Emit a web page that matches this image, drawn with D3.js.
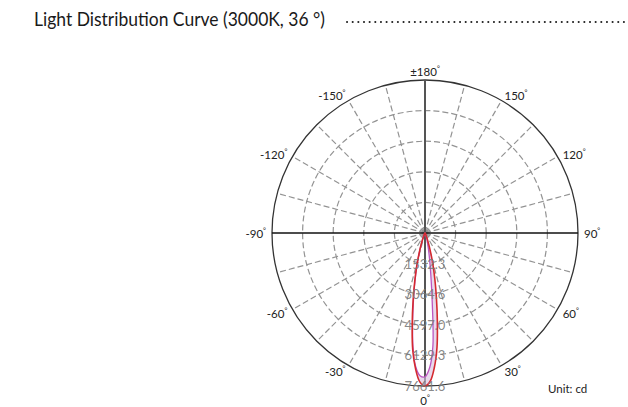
<!DOCTYPE html>
<html>
<head>
<meta charset="utf-8">
<script src="https://cdn.jsdelivr.net/npm/d3@7/dist/d3.min.js"></script>
<style>
  html, body { margin: 0; padding: 0; background: #fff; }
  svg { display: block; font-family: Lato, "Open Sans", sans-serif; }
</style>
</head>
<body>
<svg id="chart" width="628" height="407"></svg>
<script>
// Gamma angles (degrees from nadir) at which intensities are given
const gammaAngles = [0, 2, 4, 6, 8, 10, 12, 14, 16, 18, 20, 25, 30, 40, 50, 60, 70, 80, 90];

// C0 / C180 plane (red), right and left halves, in cd
const c0Values   = [7661.6, 7430, 6740, 5750, 4440, 3290, 2380, 1650, 1070, 650, 380, 115, 45, 20, 10, 5, 2, 1, 0];
const c180Values = [7661.6, 7460, 6810, 5880, 4600, 3420, 2470, 1710, 1110, 680, 400, 120, 48, 21, 10, 5, 2, 1, 0];

// C90 / C270 plane (purple), right and left halves, in cd
const c90Values  = [7200, 6740, 5670, 3450, 2070, 1300, 840, 540, 345, 215, 140, 45, 20, 10, 6, 3, 2, 1, 0];
const c270Values = [7200, 7150, 6700, 5750, 4440, 3290, 2380, 1650, 1070, 650, 380, 115, 45, 20, 10, 5, 2, 1, 0];

// Radial ticks (cd) and angular labels (degrees)
const radialTicks = [1532.3, 3064.6, 4597.0, 6129.3, 7661.6];
const angleTicks = [0, 30, 60, 90, 120, 150, 180, -150, -120, -90, -60, -30];
const spokeAngles = d3.range(0, 360, 15);

const titleText = "Light Distribution Curve (3000K, 36 °)";
const unitText = "Unit: cd";

const svg = d3.select("#chart");
const cx = 425, cy = 233, R = 153;

const r = d3.scaleLinear().domain([0, 7661.6]).range([0, R]);
// degrees (0 = down, +90 = right) -> d3 radial angle (0 = up, clockwise)
const toRad = deg => Math.PI - deg * Math.PI / 180;
const px = (deg, rad) => cx + rad * Math.sin(toRad(deg));
const py = (deg, rad) => cy - rad * Math.cos(toRad(deg));

// Title and dotted leader
svg.append("text")
  .attr("x", 34).attr("y", 26)
  .attr("font-size", 19).attr("fill", "#1a1a1a")
  .attr("textLength", 291).attr("lengthAdjust", "spacingAndGlyphs")
  .text(titleText);
svg.append("line")
  .attr("x1", 347).attr("x2", 624).attr("y1", 22).attr("y2", 22)
  .attr("stroke", "#222").attr("stroke-width", 2)
  .attr("stroke-linecap", "round")
  .attr("stroke-dasharray", "0.1,5.55");

const g = svg.append("g");

// Dashed spokes every 15 degrees (axes drawn separately)
g.selectAll("line.spoke")
  .data(spokeAngles.filter(a => a % 90 !== 0))
  .join("line")
  .attr("class", "spoke")
  .attr("x1", cx).attr("y1", cy)
  .attr("x2", a => px(a, R)).attr("y2", a => py(a, R))
  .attr("stroke", "#939393").attr("stroke-width", 1.2)
  .attr("stroke-dasharray", "6,3");

// Dashed inner rings
g.selectAll("circle.ring")
  .data(radialTicks.slice(0, -1))
  .join("circle")
  .attr("class", "ring")
  .attr("cx", cx).attr("cy", cy).attr("r", d => r(d))
  .attr("fill", "none")
  .attr("stroke", "#939393").attr("stroke-width", 1.2)
  .attr("stroke-dasharray", "6,3");

// Outer ring
g.append("circle")
  .attr("cx", cx).attr("cy", cy).attr("r", r(radialTicks[radialTicks.length - 1]))
  .attr("fill", "none").attr("stroke", "#333").attr("stroke-width", 1.3);

// Horizontal axis (-90 to 90)
g.append("line")
  .attr("x1", px(-90, R)).attr("y1", py(-90, R))
  .attr("x2", px(90, R)).attr("y2", py(90, R))
  .attr("stroke", "#111").attr("stroke-width", 1.3);

// Vertical axis (180 to 0)
g.append("line")
  .attr("x1", px(180, R)).attr("y1", py(180, R))
  .attr("x2", px(0, R)).attr("y2", py(0, R))
  .attr("stroke", "#555").attr("stroke-width", 2);

// Build a full curve from a left half and a right half
function planePoints(leftVals, rightVals) {
  const pts = [];
  for (let i = gammaAngles.length - 1; i >= 1; i--) pts.push([-gammaAngles[i], leftVals[i]]);
  pts.push([0, (leftVals[0] + rightVals[0]) / 2]);
  for (let i = 1; i < gammaAngles.length; i++) pts.push([gammaAngles[i], rightVals[i]]);
  return pts;
}

const radial = d3.lineRadial()
  .angle(d => toRad(d[0]))
  .radius(d => r(d[1]))
  .curve(d3.curveCatmullRom.alpha(0.5));

const redPts = planePoints(c180Values, c0Values);
const purplePts = planePoints(c270Values, c90Values);

const curves = g.append("g").attr("transform", `translate(${cx},${cy})`);

// Light tint where the two planes differ
curves.append("path")
  .attr("d", radial(redPts) + radial(purplePts))
  .attr("fill", "#d9bfe0").attr("fill-opacity", 0.6)
  .attr("fill-rule", "evenodd").attr("stroke", "none");

curves.append("path")
  .attr("d", radial(purplePts))
  .attr("fill", "none").attr("stroke", "#bb55c0").attr("stroke-width", 1.3);

curves.append("path")
  .attr("d", radial(redPts))
  .attr("fill", "none").attr("stroke", "#d42a2f").attr("stroke-width", 1.6);

// Radial tick labels along the 0 degree axis
g.selectAll("text.rtick")
  .data(radialTicks)
  .join("text")
  .attr("class", "rtick")
  .attr("x", d => px(0, r(d))).attr("y", d => py(0, r(d)))
  .attr("text-anchor", "middle").attr("dominant-baseline", "central")
  .attr("font-size", 13).attr("fill", "#7a7a7a").attr("fill-opacity", 0.9)
  .text(d => d.toFixed(1));

// Angular labels outside the ring
const lab = g.selectAll("text.atick")
  .data(angleTicks)
  .join("text")
  .attr("class", "atick")
  .attr("x", a => px(a, R + 6))
  .attr("y", a => {
    const y = py(a, R + 6);
    if (Math.abs(a) === 180) return y - 3;
    if (a === 0) return y + 8;
    return y;
  })
  .attr("text-anchor", a => {
    const s = Math.sin(a * Math.PI / 180);
    return s > 0.1 ? "start" : (s < -0.1 ? "end" : "middle");
  })
  .attr("dominant-baseline", "central")
  .attr("font-size", 11.5).attr("fill", "#222");
lab.append("tspan").text(a => (a === 180 ? "±180" : String(a)));
lab.append("tspan").attr("font-size", 7).attr("dy", -3).text("°");

// Unit note
svg.append("text")
  .attr("x", 548).attr("y", 388)
  .attr("dominant-baseline", "central")
  .attr("font-size", 11.5).attr("fill", "#222")
  .text(unitText);
</script>
</body>
</html>
